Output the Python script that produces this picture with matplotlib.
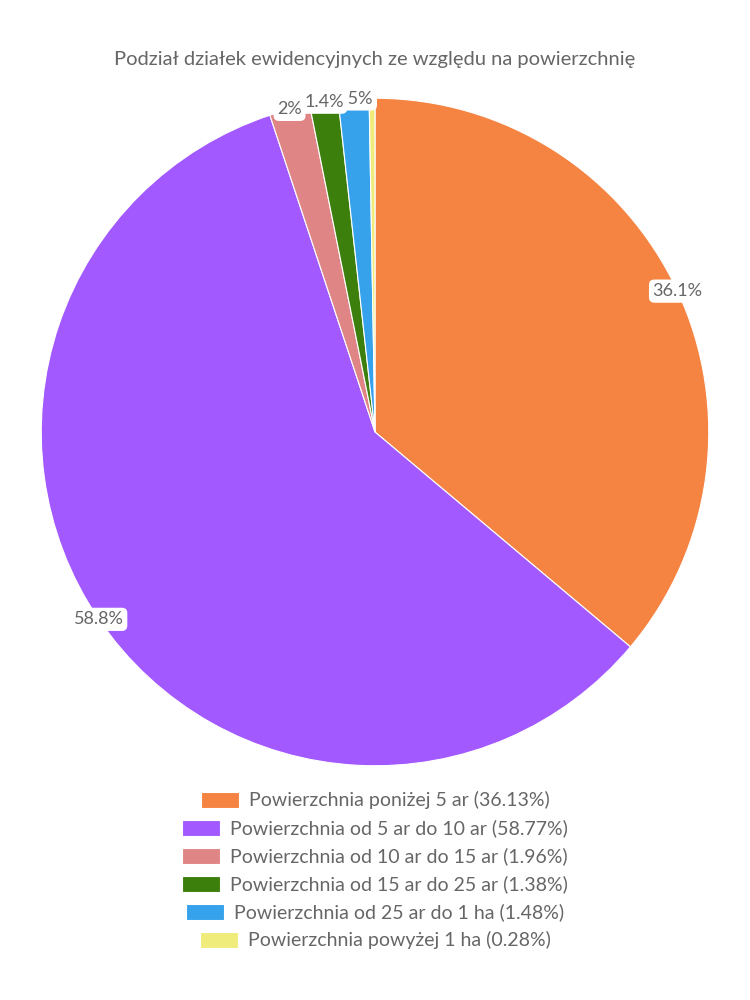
import matplotlib
matplotlib.use("Agg")
import matplotlib.pyplot as plt
import matplotlib.patches as patches
import numpy as np

plt.rcParams['font.family'] = ['Lato', 'DejaVu Sans']

title = "Podział działek ewidencyjnych ze względu na powierzchnię"
categories = ["Powierzchnia poniżej 5 ar",
              "Powierzchnia od 5 ar do 10 ar",
              "Powierzchnia od 10 ar do 15 ar",
              "Powierzchnia od 15 ar do 25 ar",
              "Powierzchnia od 25 ar do 1 ha",
              "Powierzchnia powyżej 1 ha"]
values = [36.13, 58.77, 1.96, 1.38, 1.48, 0.28]
slice_labels = ["36.1%", "58.8%", "2%", "1.4%", "1.5%", ""]
colors = ["#F58442", "#A259FF", "#E08585", "#3D7F0D", "#36A2EB", "#F0EC7C"]
text_color = "#666666"

fig = plt.figure(figsize=(7.5, 10), dpi=100)
# pie centre at (375, 432) px, radius ~334 px
ax = fig.add_axes([0.5 - 0.445, 0.568 - 0.334, 0.89, 0.668])
wedges, _ = ax.pie(values, colors=colors, startangle=90, counterclock=False,
                   radius=1.0, wedgeprops=dict(edgecolor="white", linewidth=0.8))
ax.set_xlim(-1, 1)
ax.set_ylim(-1, 1)
ax.set_aspect("equal")
ax.axis("off")

# slice labels sit on the outer edge, white rounded box
zorders = [5, 5, 5, 7, 6, 5]
for w, lab, z in zip(wedges, slice_labels, zorders):
    if not lab:
        continue
    ang = np.deg2rad((w.theta1 + w.theta2) / 2)
    ax.text(np.cos(ang) * 1.0, np.sin(ang) * 1.0, lab, ha="center", va="center",
            fontsize=13, color=text_color, zorder=z, clip_on=False,
            bbox=dict(boxstyle="round,pad=0.2,rounding_size=0.3", fc="white", ec="none"))

fig.text(0.5, 1 - 60 / 1000, title, ha="center", va="center", fontsize=14.5, color=text_color)

# centred legend rows (one row per category)
fig.canvas.draw()
renderer = fig.canvas.get_renderer()
box_w, box_h, gap = 38, 16, 10
row_y0, row_step = 800, 28
for i, (cat, val, col) in enumerate(zip(categories, values, colors)):
    y = 1000 - (row_y0 + i * row_step)
    t = fig.text(0, y / 1000, f"{cat} ({val:.2f}%)", ha="left", va="center",
                 fontsize=14, color=text_color)
    tw = t.get_window_extent(renderer).width
    total = box_w + gap + tw
    left = 375 - total / 2
    t.set_x((left + box_w + gap) / 750)
    fig.patches.append(patches.Rectangle((left / 750, (y - box_h / 2) / 1000),
                                         box_w / 750, box_h / 1000,
                                         transform=fig.transFigure, facecolor=col,
                                         edgecolor="white", linewidth=0.8))

fig.savefig("out.png", dpi=100, facecolor="white")
